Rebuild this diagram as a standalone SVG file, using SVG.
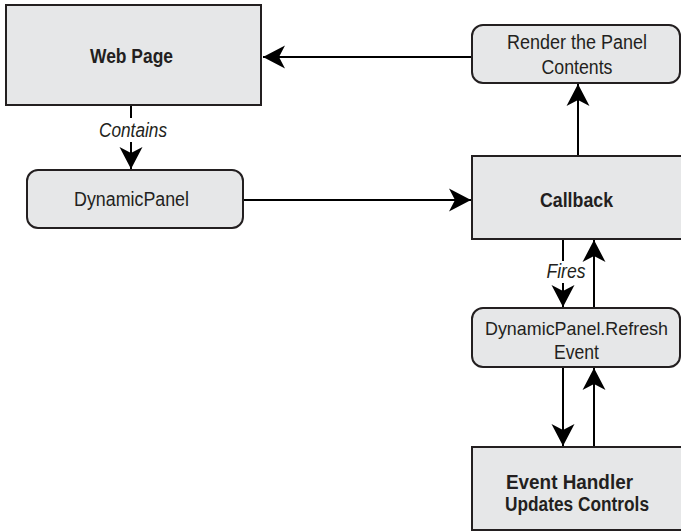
<svg xmlns="http://www.w3.org/2000/svg" width="681" height="531" viewBox="0 0 681 531">
<style>
.box{fill:#e6e7e8;stroke:#231f20;stroke-width:2}
.t{font-family:"Liberation Sans",Arial,sans-serif;font-size:20px;fill:#231f20;text-anchor:middle}
.b{font-weight:bold;font-size:20.5px}
.i{font-style:italic}
.ln{fill:none;stroke:#000;stroke-width:2}
</style>
<defs>
<marker id="ah" markerUnits="userSpaceOnUse" viewBox="-22 -12 23 24" refX="0" refY="0" markerWidth="23" markerHeight="24" orient="auto">
<path d="M0,0 L-22,-11.5 L-16,0 L-22,11.5 Z" fill="#000"/>
</marker>
</defs>
<rect width="681" height="531" fill="#fff"/>
<g id="connectors">
<line class="ln" x1="472" y1="57" x2="263" y2="57" marker-end="url(#ah)"/>
<line class="ln" x1="131" y1="105" x2="131" y2="118"/>
<line class="ln" x1="131" y1="142" x2="131" y2="169" marker-end="url(#ah)"/>
<text class="t i" x="133" y="137" textLength="68" lengthAdjust="spacingAndGlyphs">Contains</text>
<line class="ln" x1="243" y1="200" x2="471" y2="200" marker-end="url(#ah)"/>
<line class="ln" x1="578" y1="156" x2="578" y2="84" marker-end="url(#ah)"/>
<line class="ln" x1="563" y1="239" x2="563" y2="261"/>
<line class="ln" x1="563" y1="283" x2="563" y2="307" marker-end="url(#ah)"/>
<text class="t i" x="566" y="278" textLength="39" lengthAdjust="spacingAndGlyphs">Fires</text>
<line class="ln" x1="594" y1="308" x2="594" y2="240" marker-end="url(#ah)"/>
<line class="ln" x1="563" y1="367" x2="563" y2="446" marker-end="url(#ah)"/>
<line class="ln" x1="594" y1="447" x2="594" y2="368" marker-end="url(#ah)"/>
</g>
<g id="webpage">
<rect class="box" x="6" y="5" width="255" height="100"/>
<text class="t b" x="131.5" y="63" textLength="83" lengthAdjust="spacingAndGlyphs">Web Page</text>
</g>
<g id="render">
<rect class="box" x="472" y="25" width="208" height="58" rx="11"/>
<text class="t" x="577" y="49" textLength="140" lengthAdjust="spacingAndGlyphs">Render the Panel</text>
<text class="t" x="577" y="74" textLength="71" lengthAdjust="spacingAndGlyphs">Contents</text>
</g>
<g id="dynamicpanel">
<rect class="box" x="27" y="170" width="216" height="58" rx="11"/>
<text class="t" x="131.5" y="206" textLength="115" lengthAdjust="spacingAndGlyphs">DynamicPanel</text>
</g>
<g id="callback">
<rect class="box" x="472" y="156" width="220" height="83"/>
<text class="t b" x="576.5" y="207" textLength="73" lengthAdjust="spacingAndGlyphs">Callback</text>
</g>
<g id="refresh">
<rect class="box" x="472" y="308" width="208" height="59" rx="11"/>
<text class="t" x="576.5" y="335" textLength="183" lengthAdjust="spacingAndGlyphs" style="font-size:19px">DynamicPanel.Refresh</text>
<text class="t" x="576.5" y="359" textLength="45" lengthAdjust="spacingAndGlyphs">Event</text>
</g>
<g id="handler">
<rect class="box" x="472" y="447" width="220" height="83"/>
<text class="t b" x="569.5" y="489" textLength="127" lengthAdjust="spacingAndGlyphs" style="font-size:19.5px">Event Handler</text>
<text class="t b" x="577" y="511" textLength="144" lengthAdjust="spacingAndGlyphs" style="font-size:19.5px">Updates Controls</text>
</g>
</svg>
